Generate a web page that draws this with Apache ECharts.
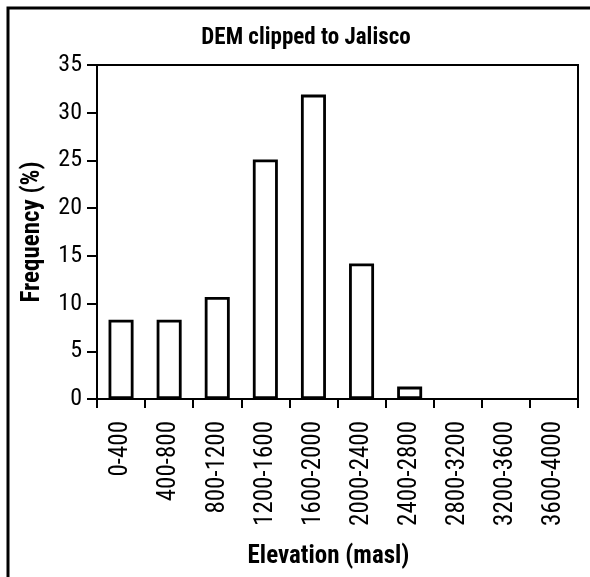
<!DOCTYPE html>
<html><head><meta charset="utf-8">
<script src="https://cdn.jsdelivr.net/npm/echarts@6/dist/echarts.min.js"></script>
<style>html,body{margin:0;padding:0;background:#fff}#c{width:590px;height:577px}</style>
</head><body><div id="c"></div>
<script>
const categories = ['0-400','400-800','800-1200','1200-1600','1600-2000','2000-2400','2400-2800','2800-3200','3200-3600','3600-4000'];
const frequency = [8.3, 8.3, 10.7, 25.1, 31.9, 14.2, 1.3, 0, 0, 0];
const FONT = '"Roboto Condensed","DejaVu Sans Condensed",sans-serif';
const chart = echarts.init(document.getElementById('c'), null, {renderer:'canvas'});
chart.setOption({
  animation:false,
  backgroundColor:'#fff',
  title:{text:'DEM clipped to Jalisco', left:301, textAlign:'center', top:22,
    textStyle:{fontFamily:FONT, fontSize:23, fontWeight:'bold', color:'#000'}},
  graphic:[{type:'rect', shape:{x:8,y:8,width:700,height:700},
    style:{fill:'none', stroke:'#000', lineWidth:3}}],
  grid:{left:97, right:12, top:65, bottom:178, show:true, borderColor:'#000', borderWidth:2, backgroundColor:'transparent'},
  xAxis:{type:'category', data:categories, boundaryGap:true,
    axisLine:{lineStyle:{color:'#000', width:2}},
    axisTick:{show:true, inside:false, length:9, lineStyle:{color:'#000', width:2}},
    axisLabel:{rotate:90, margin:22, fontFamily:FONT, fontSize:25, color:'#000', interval:0},
    name:'Elevation (masl)', nameLocation:'middle', nameGap:145,
    nameTextStyle:{fontFamily:FONT, fontSize:25, fontWeight:'bold', color:'#000', padding:[0,18,0,0]}},
  yAxis:{type:'value', min:0, max:35, interval:5,
    axisLine:{show:true, lineStyle:{color:'#000', width:2}},
    axisTick:{show:true, inside:false, length:10, lineStyle:{color:'#000', width:2}},
    axisLabel:{margin:15, fontFamily:FONT, fontSize:24, color:'#000'},
    splitLine:{show:false},
    name:'Frequency (%)', nameLocation:'middle', nameGap:52,
    nameTextStyle:{fontFamily:FONT, fontSize:25, fontWeight:'bold', color:'#000'}},
  series:[{type:'bar', barWidth:'52%',
    data:frequency.map(v => v === 0 ? {value:v, itemStyle:{borderWidth:0}} : v),
    itemStyle:{color:'#fff', borderColor:'#000', borderWidth:2.8}}]
});
</script></body></html>
